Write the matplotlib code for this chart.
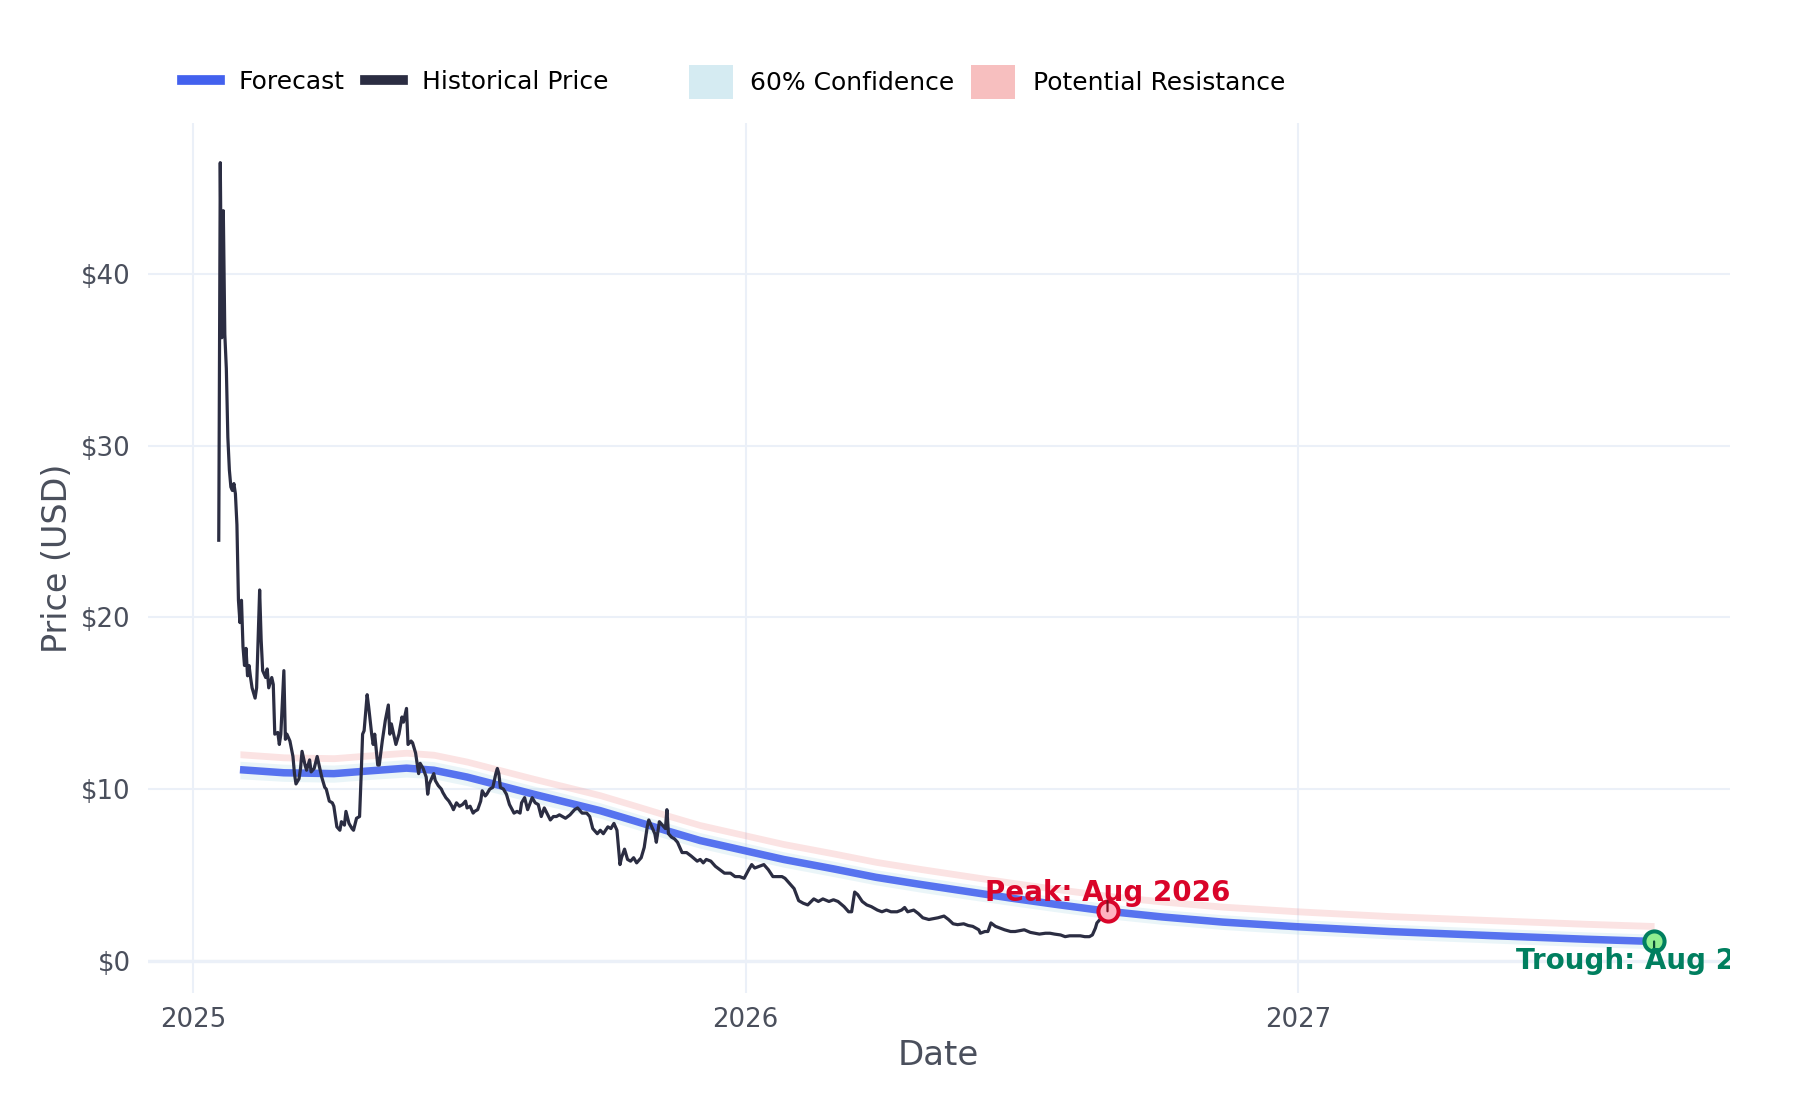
import numpy as np
import pandas as pd
import matplotlib
matplotlib.use("Agg")
import matplotlib.pyplot as plt
import matplotlib.dates as mdates
from matplotlib.lines import Line2D
from matplotlib.patches import Patch
from matplotlib.ticker import FuncFormatter

# day offsets are counted from 1 Jan 2025
start = pd.Timestamp("2025-01-01")

hist_day = [17, 18, 19, 20, 21, 22, 23, 24, 25, 26, 27, 28, 29, 30, 31, 32, 33, 34, 35, 36,
            37, 38, 39, 41, 42, 44, 45, 46, 48, 49, 50, 52, 53, 54, 56, 57, 58, 60, 61, 62,
            64, 66, 67, 68, 70, 71, 72, 74, 75, 77, 78, 80, 82, 83, 85, 87, 88, 90, 92, 93,
            94, 95, 97, 98, 100, 101, 103, 105, 106, 108, 110, 111, 112, 113, 115, 116, 118, 119, 120, 122,
            123, 125, 127, 129, 130, 131, 133, 134, 136, 138, 139, 141, 142, 144, 145, 147, 149, 150, 152, 154,
            155, 156, 159, 160, 162, 164, 165, 167, 169, 171, 172, 174, 176, 178, 180, 181, 183, 185, 186, 188,
            190, 191, 193, 194, 196, 198, 200, 201, 202, 203, 205, 207, 209, 212, 214, 216, 217, 219, 221, 224,
            226, 228, 230, 232, 236, 238, 240, 242, 246, 249, 252, 254, 257, 260, 262, 264, 267, 269, 271, 274,
            276, 278, 280, 282, 283, 285, 287, 289, 291, 293, 296, 298, 300, 301, 303, 305, 306, 308, 310, 312,
            313, 314, 316, 318, 320, 323, 326, 329, 333, 335, 337, 339, 342, 345, 348, 351, 355, 358, 361, 364,
            367, 369, 371, 374, 377, 380, 383, 386, 389, 391, 394, 397, 400, 403, 406, 410, 413, 416, 420, 423,
            426, 430, 433, 435, 437, 439, 442, 445, 448, 452, 455, 458, 461, 465, 468, 470, 472, 476, 479, 482,
            486, 489, 492, 496, 499, 502, 505, 509, 512, 515, 519, 520, 523, 525, 527, 530, 533, 536, 540, 543,
            546, 549, 553, 556, 559, 563, 566, 569, 573, 576, 579, 582, 586, 589, 592, 594, 596, 597, 599, 600]
hist_price = [24.5, 46.5, 36.3, 43.7, 36.5, 34.5, 30.5, 28.6, 27.6, 27.4, 27.8, 27.2, 25.4, 21.0, 19.7, 21.0, 18.3, 17.2, 18.2, 16.6,
              17.2, 16.5, 15.9, 15.3, 15.9, 21.6, 18.7, 16.9, 16.5, 17.0, 15.9, 16.5, 16.1, 13.2, 13.3, 12.6, 13.2, 16.9, 12.9, 13.2,
              12.8, 11.9, 10.9, 10.3, 10.6, 11.2, 12.2, 11.4, 11.1, 11.7, 11.0, 11.2, 11.9, 11.5, 10.7, 10.1, 10.0, 9.3, 9.2, 9.0,
              8.4, 7.8, 7.6, 8.1, 7.9, 8.7, 8.0, 7.7, 7.6, 8.3, 8.4, 10.7, 13.2, 13.4, 15.5, 14.8, 13.2, 12.6, 13.2, 11.4,
              11.4, 12.8, 14.0, 14.9, 13.2, 13.8, 13.0, 12.6, 13.2, 14.2, 13.9, 14.7, 12.6, 12.8, 12.7, 12.1, 10.9, 11.5, 11.2, 10.7,
              9.7, 10.3, 10.9, 10.5, 10.2, 10.0, 9.8, 9.5, 9.3, 9.0, 8.8, 9.2, 9.0, 9.1, 9.3, 8.9, 9.0, 8.6, 8.7, 8.8,
              9.3, 9.9, 9.6, 9.7, 10.0, 10.1, 10.9, 11.2, 10.9, 10.1, 10.0, 9.7, 9.1, 8.6, 8.7, 8.6, 9.2, 9.5, 8.8, 9.5,
              9.2, 9.1, 8.4, 8.9, 8.2, 8.4, 8.4, 8.5, 8.3, 8.5, 8.8, 8.9, 8.6, 8.6, 8.4, 7.7, 7.4, 7.6, 7.4, 7.8,
              7.7, 8.0, 7.6, 5.6, 6.0, 6.5, 5.9, 5.8, 6.0, 5.7, 6.0, 6.6, 7.8, 8.2, 7.8, 7.4, 6.9, 8.1, 7.9, 7.7,
              8.8, 7.4, 7.2, 7.1, 6.9, 6.3, 6.3, 6.1, 5.8, 5.9, 5.7, 5.9, 5.8, 5.5, 5.3, 5.1, 5.1, 4.9, 4.9, 4.8,
              5.3, 5.6, 5.4, 5.5, 5.6, 5.3, 4.9, 4.9, 4.9, 4.8, 4.5, 4.2, 3.5, 3.35, 3.25, 3.6, 3.45, 3.6, 3.45, 3.55,
              3.45, 3.15, 2.85, 2.85, 4.0, 3.85, 3.45, 3.25, 3.15, 2.95, 2.85, 2.95, 2.85, 2.85, 2.95, 3.1, 2.85, 2.95, 2.75, 2.5,
              2.4, 2.45, 2.5, 2.6, 2.4, 2.15, 2.1, 2.15, 2.05, 2.0, 1.8, 1.6, 1.7, 1.7, 2.2, 2.0, 1.9, 1.8, 1.7, 1.7,
              1.75, 1.8, 1.65, 1.6, 1.55, 1.6, 1.6, 1.55, 1.5, 1.4, 1.45, 1.45, 1.45, 1.4, 1.4, 1.5, 1.9, 2.2, 2.4, 2.6]

fc_day = [31, 60, 93, 115, 141, 159, 181, 203, 225, 247, 269, 291, 313, 335, 365,
          390, 423, 451, 480, 510, 540, 570, 604, 640, 680, 729, 790, 858, 920, 965]
fc_val = [11.13, 10.95, 10.9, 11.05, 11.22, 11.1, 10.7, 10.2, 9.7, 9.22, 8.74, 8.16, 7.57, 7.0, 6.4,
          5.9, 5.35, 4.86, 4.45, 4.05, 3.65, 3.28, 2.88, 2.55, 2.25, 1.98, 1.7, 1.46, 1.25, 1.12]
conf_lo = [10.6, 10.45, 10.4, 10.55, 10.7, 10.6, 10.2, 9.7, 9.2, 8.75, 8.3, 7.7, 7.1, 6.55, 5.95,
           5.45, 4.9, 4.42, 4.0, 3.6, 3.22, 2.85, 2.45, 2.12, 1.82, 1.55, 1.27, 1.03, 0.82, 0.7]
conf_hi = [11.62, 11.45, 11.4, 11.55, 11.72, 11.6, 11.2, 10.68, 10.18, 9.7, 9.2, 8.62, 8.03, 7.46, 6.86,
           6.35, 5.8, 5.3, 4.9, 4.5, 4.08, 3.72, 3.32, 2.98, 2.68, 2.41, 2.13, 1.89, 1.68, 1.55]
res_lo = [11.83, 11.65, 11.6, 11.75, 11.92, 11.8, 11.4, 10.9, 10.4, 9.92, 9.44, 8.86, 8.27, 7.7, 7.1,
          6.6, 6.05, 5.56, 5.15, 4.75, 4.35, 3.98, 3.58, 3.25, 2.95, 2.68, 2.4, 2.16, 1.95, 1.82]
res_hi = [12.23, 12.05, 12.0, 12.15, 12.32, 12.2, 11.8, 11.3, 10.8, 10.32, 9.84, 9.26, 8.67, 8.1, 7.5,
          7.0, 6.45, 5.96, 5.55, 5.15, 4.75, 4.38, 3.98, 3.65, 3.35, 3.08, 2.8, 2.56, 2.35, 2.22]

peak_day, peak_val, peak_label = 604, 2.88, "Peak: Aug 2026"
trough_day, trough_val, trough_label = 965, 1.12, "Trough: Aug 2027"

year_ticks = ["2025-01-01", "2026-01-01", "2027-01-01"]
year_labels = ["2025", "2026", "2027"]
price_ticks = [0, 10, 20, 30, 40]

hist_dates = start + pd.to_timedelta(hist_day, unit="D")
fc_dates = start + pd.to_timedelta(fc_day, unit="D")
peak_date = start + pd.Timedelta(days=peak_day)
trough_date = start + pd.Timedelta(days=trough_day)

c_hist = "#2b2d42"
c_fc = "#4361ee"
c_peak = "#d90429"
c_trough = "#007f5f"
c_grid = "#ebf0f8"
c_text = "#4a4f5c"

fig = plt.figure(figsize=(18, 11), dpi=100)
ax = fig.add_axes([0.082, 0.097, 0.879, 0.791])

ax.fill_between(fc_dates, conf_lo, conf_hi, color="lightblue", alpha=0.25, lw=0, zorder=1)
ax.fill_between(fc_dates, res_lo, res_hi, color="lightcoral", alpha=0.22, lw=0, zorder=1)
ax.plot(fc_dates, fc_val, color=c_fc, lw=5.4, alpha=0.88, solid_capstyle="butt", zorder=2)
ax.plot(hist_dates, hist_price, color=c_hist, lw=2.3, zorder=3)

# peak / trough markers
ax.plot([peak_date], [peak_val], "o", ms=14.5, mfc="#ffb3c1", mec=c_peak, mew=2.9, zorder=4)
ax.plot([trough_date], [trough_val], "o", ms=14.5, mfc="#90ee90", mec=c_trough, mew=2.9, zorder=4)
ax.annotate("", xy=(peak_date, peak_val), xytext=(0, 7.5), textcoords="offset points",
            arrowprops=dict(arrowstyle="-", color="#7a1020", lw=1.6, shrinkA=0, shrinkB=0), zorder=5)
ax.annotate("", xy=(trough_date, trough_val), xytext=(0, -8.5), textcoords="offset points",
            arrowprops=dict(arrowstyle="-", color="#0b4a35", lw=1.6, shrinkA=0, shrinkB=0), zorder=5)
ax.annotate(peak_label, xy=(peak_date, peak_val), xytext=(0, 7.5), textcoords="offset points",
            ha="center", va="baseline", fontsize=20, fontweight="bold", color=c_peak, zorder=6)
ax.annotate(trough_label, xy=(trough_date, trough_val), xytext=(0, -4), textcoords="offset points",
            ha="center", va="top", fontsize=20, fontweight="bold", color=c_trough, zorder=6,
            clip_on=True)

ax.set_xlim(pd.Timestamp("2024-12-02"), pd.Timestamp("2027-10-13"))
ax.set_ylim(-1.9, 48.8)
ax.set_xticks(pd.to_datetime(year_ticks))
ax.set_xticklabels(year_labels)
ax.set_yticks(price_ticks)
ax.yaxis.set_major_formatter(FuncFormatter(lambda v, p: f"${v:.0f}"))

ax.grid(True, color=c_grid, lw=1.45)
ax.axhline(0, color=c_grid, lw=2.4, zorder=0.5)
ax.set_axisbelow(True)
for s in ax.spines.values():
    s.set_visible(False)
ax.tick_params(axis="both", length=0, labelsize=18.7, labelcolor=c_text)
ax.tick_params(axis="x", pad=10)
ax.tick_params(axis="y", pad=12)
ax.set_xlabel("Date", fontsize=24.5, color=c_text, labelpad=4)
ax.set_ylabel("Price (USD)", fontsize=24, color=c_text, labelpad=5)

# legend, two groups like the original
fig.legend(handles=[Line2D([], [], color=c_fc, lw=7),
                    Line2D([], [], color=c_hist, lw=7)],
           labels=["Forecast", "Historical Price"],
           loc="center left", bbox_to_anchor=(182 / 1800, 1 - 82 / 1100), ncol=2,
           frameon=False, fontsize=18, handlelength=1.52, handletextpad=0.75,
           columnspacing=0.8, borderpad=0, borderaxespad=0)
fig.legend(handles=[Patch(facecolor="lightblue", alpha=0.5, lw=0),
                    Patch(facecolor="lightcoral", alpha=0.5, lw=0)],
           labels=["60% Confidence", "Potential Resistance"],
           loc="center left", bbox_to_anchor=(689 / 1800, 1 - 82 / 1100), ncol=2,
           frameon=False, fontsize=18, handlelength=1.76, handleheight=1.76,
           handletextpad=0.7, columnspacing=0.66, borderpad=0, borderaxespad=0)

fig.savefig("out.png", dpi=100, facecolor="white")
